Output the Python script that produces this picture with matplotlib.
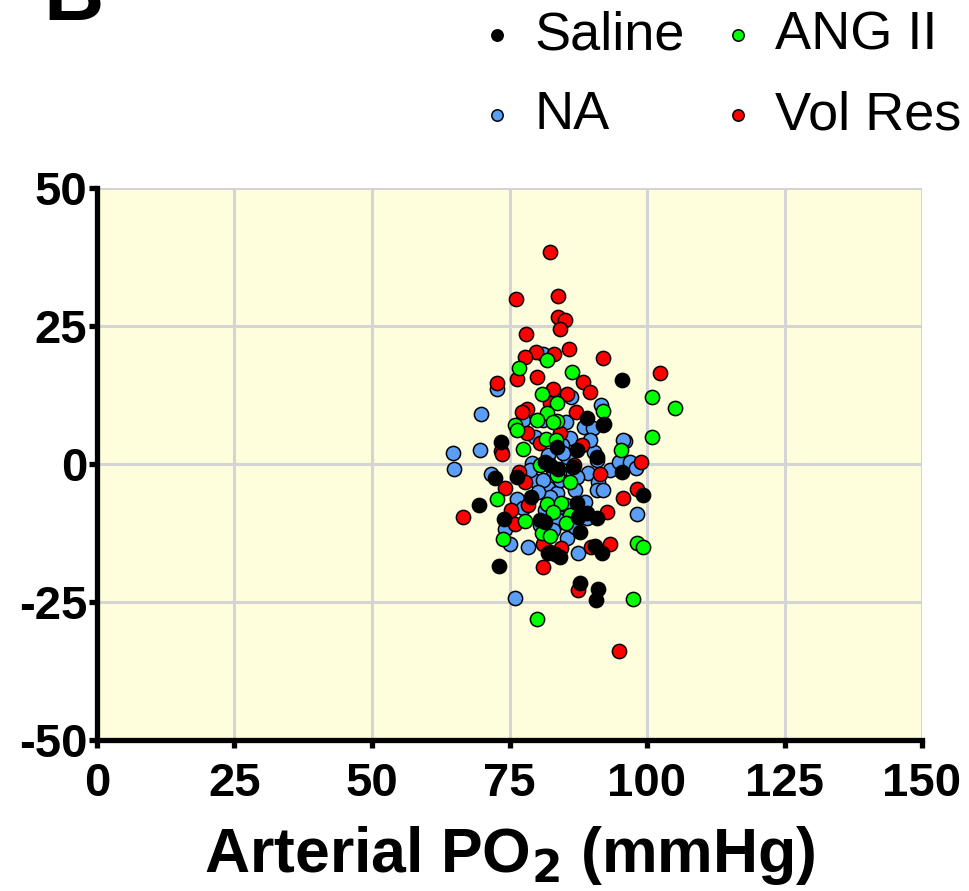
import matplotlib
matplotlib.use('Agg')
import matplotlib.pyplot as plt

# Saline
saline_x = [95.5, 89.1, 92.2, 73.5, 72.4, 76.4, 78.9, 69.5, 74.0, 80.5, 83.6, 87.3,
            92.0, 90.9, 82.4, 83.8, 87.3, 89.1, 90.9, 87.5, 87.8, 95.5, 99.3, 82.0,
            84.2, 90.5, 91.8, 73.1, 87.8, 91.1, 90.7, 81.5, 86.5, 81.5, 83.2]
saline_y = [15.2, 8.3, 7.2, 4.0, -2.5, -2.4, -6.0, -7.4, -10.0, -10.1, 3.1, 2.5,
            7.1, 1.3, -0.2, -0.9, -7.1, -8.9, -9.8, -9.6, -12.3, -1.4, -5.6, -16.1,
            -16.8, -14.9, -16.1, -18.5, -21.6, -22.6, -24.6, 0.4, -0.5, -10.6, -16.3]

# NA
na_x = [81.1, 72.7, 69.8, 86.2, 91.6, 77.5, 85.3, 88.5, 64.7, 64.9, 69.6, 71.6,
        79.1, 79.8, 82.0, 83.6, 82.0, 86.0, 85.5, 90.4, 89.3, 91.1, 90.9, 92.0,
        88.7, 93.3, 94.9, 96.0, 96.9, 98.0, 98.2, 76.4, 77.5, 74.2, 75.1, 78.4,
        80.5, 83.6, 85.5, 86.9, 87.5, 76.0, 82.4, 86.5, 81.1, 90.2, 95.6, 90.9,
        82.9, 81.1, 84.2, 83.8, 87.3, 89.1, 82.9, 81.5, 85.3, 84.2, 86.9, 82.9,
        84.5, 79.6, 89.6, 78.7, 80.2, 84.8]
na_y = [19.9, 13.6, 9.1, 12.1, 10.7, 8.0, 7.6, 6.7, 2.0, -0.9, 2.5, -1.8,
        0.2, -3.1, -4.3, -5.3, 1.6, 4.7, 1.3, 2.2, -1.6, -3.3, -4.7, -4.7,
        -6.9, -1.1, 0.4, 4.2, 0.4, -0.7, -9.1, -6.3, -8.0, -11.8, -14.5, -15.0,
        -11.1, -10.7, -13.4, -11.4, -16.1, -24.3, -6.0, -1.6, -2.9, 6.5, 4.3, 0.7,
        13.4, 8.0, -7.8, -10.1, -2.4, -9.8, -1.1, -8.3, -7.4, -2.9, -4.7, -12.0,
        3.4, 4.9, 4.3, -1.1, -5.0, 2.0]

# ANG II
ang_x = [76.7, 81.8, 86.4, 80.9, 83.6, 81.8, 80.0, 83.6, 92.0, 100.9, 105.1, 76.0,
         100.9, 95.3, 77.5, 81.6, 76.4, 80.5, 83.6, 86.0, 72.7, 81.8, 84.4, 82.9,
         86.0, 85.3, 77.8, 80.9, 82.4, 73.8, 98.2, 99.3, 97.5, 80.0, 82.9, 83.4]
ang_y = [17.4, 18.8, 16.7, 12.7, 11.1, 9.2, 8.0, 7.8, 9.6, 12.1, 10.1, 7.1,
         4.9, 2.5, 2.7, 4.5, 6.2, -0.2, -2.0, -3.3, -6.3, -7.2, -7.1, -8.7,
         -9.2, -10.7, -10.3, -12.5, -13.0, -13.6, -14.3, -15.0, -24.5, -28.1, 7.6, 4.3]

# Vol Res
vol_x = [82.4, 76.2, 83.8, 83.8, 85.1, 84.2, 78.0, 79.8, 83.1, 77.8, 85.8, 92.0,
         102.4, 72.7, 76.4, 80.0, 82.9, 85.5, 88.4, 89.6, 87.1, 78.2, 77.3, 73.5,
         73.6, 76.7, 77.8, 74.2, 75.3, 76.0, 78.4, 86.7, 91.5, 92.7, 95.6, 98.2,
         98.9, 66.5, 81.1, 81.1, 82.4, 93.3, 89.8, 87.5, 94.9, 78.2, 80.5, 82.4,
         84.2, 88.2, 84.4]
vol_y = [38.4, 29.9, 30.4, 26.6, 26.1, 24.5, 23.6, 20.3, 19.9, 19.4, 20.8, 19.2,
         16.5, 14.7, 15.4, 15.8, 13.6, 12.7, 14.9, 13.0, 9.4, 10.0, 9.4, 2.4,
         1.8, -1.4, -3.3, -4.3, -8.3, -10.9, -7.4, -0.2, -1.8, -8.7, -6.2, -4.5,
         0.4, -9.6, -14.5, -18.7, -15.9, -14.5, -15.0, -22.8, -33.9, 5.6, 3.8, 11.1,
         5.6, 3.4, -15.2]

x_ticks = [0, 25, 50, 75, 100, 125, 150]
y_ticks = [-50, -25, 0, 25, 50]

plt.rcParams['font.family'] = ['Liberation Sans', 'DejaVu Sans']

fig = plt.figure(figsize=(9.69, 8.91), dpi=100)
ax = fig.add_axes([0.1001, 0.1695, 0.8514, 0.6195])
ax.set_facecolor('#FFFEDC')

groups = [
    (na_x, na_y, '#5A9EF5', 'NA'),
    (vol_x, vol_y, '#FF0000', 'Vol Res'),
    (ang_x, ang_y, '#00FF00', 'ANG II'),
    (saline_x, saline_y, '#000000', 'Saline'),
]
handles = {}
for gx, gy, col, name in groups:
    handles[name] = ax.scatter(gx, gy, s=105, c=col, edgecolors='black',
                               linewidths=1.1, zorder=3, label=name)

ax.set_xlim(0, 150)
ax.set_ylim(-50, 50)
ax.set_xticks(x_ticks)
ax.set_yticks(y_ticks)
ax.grid(True, color='#D4D4D4', linewidth=2.2, zorder=0)
ax.set_axisbelow(True)

for side in ['top', 'right']:
    ax.spines[side].set_visible(False)
for side in ['left', 'bottom']:
    ax.spines[side].set_linewidth(3.8)
ax.tick_params(width=3.8, length=6, direction='out')

ax.set_xticklabels([str(t) for t in x_ticks], fontsize=34, fontweight='bold')
ax.set_yticklabels([str(t) for t in y_ticks], fontsize=34, fontweight='bold')
ax.tick_params(axis='x', pad=10)
ax.tick_params(axis='y', pad=1)

ax.set_xlabel('Arterial PO$_\\mathbf{2}$ (mmHg)', fontsize=45, fontweight='bold',
              labelpad=13)

order = ['Saline', 'NA', 'ANG II', 'Vol Res']
leg = fig.legend([handles[k] for k in order], order, ncol=2, frameon=False,
                 loc='upper left', bbox_to_anchor=(0.491, 0.988), borderpad=0,
                 prop={'size': 39}, markerscale=0.8,
                 handletextpad=0.28, columnspacing=0.58, labelspacing=0.55,
                 handlelength=0.8, borderaxespad=0)

fig.text(0.045, 1 - 20 / 891, 'B', fontsize=60, fontweight='bold', va='baseline')

fig.savefig('out.png', dpi=100)
